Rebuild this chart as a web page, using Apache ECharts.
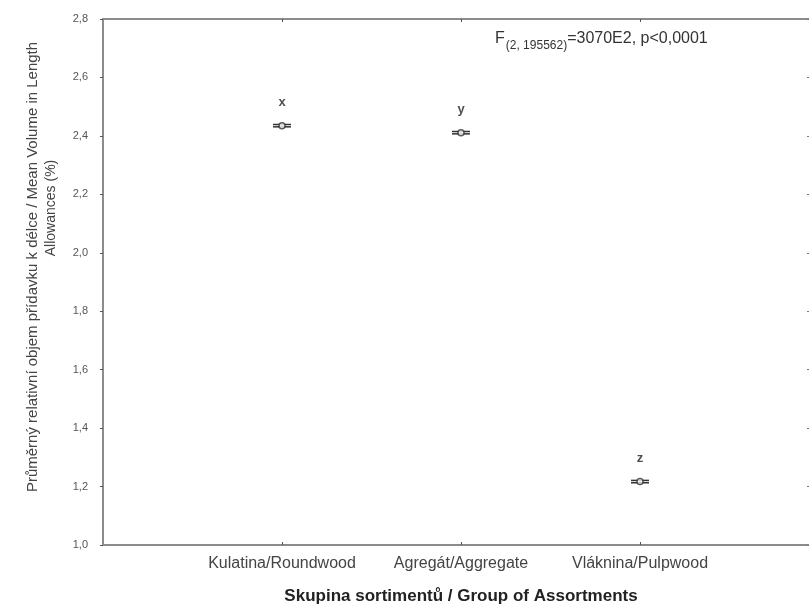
<!DOCTYPE html>
<html>
<head>
<meta charset="utf-8">
<script src="https://cdn.jsdelivr.net/npm/echarts@6/dist/echarts.min.js"></script>
<style>
  html, body { margin: 0; padding: 0; background: #fff; }
  #chart { width: 809px; height: 607px; }
</style>
</head>
<body>
<div id="chart"></div>
<script>
// skupiny sortimentu (prazdne kraje jen kvuli rozlozeni osy)
var groups = ['', 'Kulatina/Roundwood', 'Agregát/Aggregate', 'Vláknina/Pulpwood', ''];
var means = [null, 2.435, 2.411, 1.217, null];
var ciHalf = [null, 0.004, 0.004, 0.004, null];
var letters = ['', 'x', 'y', 'z', ''];
var yMin = 1.0, yMax = 2.8, yStep = 0.2;

var frame = '#8c8c8c';
var font = 'Liberation Sans, Arial, sans-serif';

var errData = [];
var pointData = [];
groups.forEach(function (g, i) {
  if (means[i] == null) return;
  errData.push([i, means[i], means[i] - ciHalf[i], means[i] + ciHalf[i]]);
  pointData.push({ value: [i, means[i]], letter: letters[i] });
});

function midTicks(i) { return i > 0 && i < groups.length - 1; }

var chart = echarts.init(document.getElementById('chart'));
chart.setOption({
  backgroundColor: '#fff',
  animation: false,
  textStyle: { fontFamily: font },
  grid: { left: 103, top: 19, bottom: 62, width: 716, outerBoundsMode: 'none', containLabel: false },
  xAxis: [
    {
      type: 'category', data: groups, boundaryGap: false, position: 'bottom',
      axisLine: { lineStyle: { color: frame, width: 2 } },
      axisTick: { inside: true, length: 3, lineStyle: { color: '#555' }, interval: midTicks },
      axisLabel: { color: '#444', fontSize: 16, margin: 11, interval: 0 },
      splitLine: { show: false },
      name: 'Skupina sortimentů / Group of Assortments',
      nameLocation: 'middle', nameGap: 43,
      nameTextStyle: { color: '#222', fontSize: 17, fontWeight: 'bold' }
    },
    {
      type: 'category', data: groups, boundaryGap: false, position: 'top',
      axisLine: { lineStyle: { color: frame, width: 2 } },
      axisTick: { inside: true, length: 3, lineStyle: { color: '#555' }, interval: midTicks },
      axisLabel: { show: false }
    }
  ],
  yAxis: [
    {
      type: 'value', min: yMin, max: yMax, interval: yStep,
      axisLine: { show: true, lineStyle: { color: frame, width: 2 } },
      axisTick: { show: true, length: 3, lineStyle: { color: '#555' } },
      axisLabel: { color: '#555', fontSize: 11, margin: 15,
        formatter: function (v) { return v.toFixed(1).replace('.', ','); } },
      splitLine: { show: false }
    },
    {
      type: 'value', min: yMin, max: yMax, interval: yStep, position: 'right', offset: -9,
      axisLine: { show: true, lineStyle: { color: frame, width: 2 } },
      axisTick: { show: true, inside: true, length: 3, lineStyle: { color: '#777' } },
      axisLabel: { show: false },
      splitLine: { show: false }
    }
  ],
  series: [
    {
      type: 'custom',
      data: errData,
      renderItem: function (params, api) {
        var c = api.coord([api.value(0), api.value(1)]);
        var lo = api.coord([api.value(0), api.value(2)]);
        var hi = api.coord([api.value(0), api.value(3)]);
        var w = 9;
        var st = { stroke: '#333', lineWidth: 1.5 };
        return {
          type: 'group',
          children: [
            { type: 'line', shape: { x1: c[0] - w, y1: lo[1], x2: c[0] + w, y2: lo[1] }, style: st },
            { type: 'line', shape: { x1: c[0] - w, y1: hi[1], x2: c[0] + w, y2: hi[1] }, style: st },
            { type: 'line', shape: { x1: c[0], y1: lo[1], x2: c[0], y2: hi[1] }, style: st }
          ]
        };
      },
      z: 3
    },
    {
      type: 'scatter',
      data: pointData,
      symbol: 'circle', symbolSize: 6,
      itemStyle: { color: '#fff', borderColor: '#333', borderWidth: 1.5 },
      label: {
        show: true, position: 'top', distance: 13,
        formatter: function (p) { return p.data.letter; },
        color: '#222', fontSize: 13, fontWeight: 'bold'
      },
      z: 4
    }
  ],
  graphic: [
    {
      type: 'text', x: 33, y: 267, rotation: Math.PI / 2,
      style: { text: 'Průměrný relativní objem přídavku k délce / Mean Volume in Length',
        fontFamily: font, fontSize: 15, fill: '#444', textAlign: 'center', textVerticalAlign: 'middle' }
    },
    {
      type: 'text', x: 51, y: 208, rotation: Math.PI / 2,
      style: { text: 'Allowances (%)',
        fontFamily: font, fontSize: 14, fill: '#444', textAlign: 'center', textVerticalAlign: 'middle' }
    },
    {
      type: 'text', left: 495, top: 31,
      style: {
        text: '{f|F}{s|(2, 195562)}{f|=3070E2, p<0,0001}',
        fontFamily: font,
        rich: {
          f: { fontFamily: font, fontSize: 16, fill: '#333', verticalAlign: 'top', lineHeight: 18 },
          s: { fontFamily: font, fontSize: 12, fill: '#333', verticalAlign: 'top', lineHeight: 14, padding: [9, 0, 0, 1] }
        }
      }
    }
  ]
});
</script>
</body>
</html>
